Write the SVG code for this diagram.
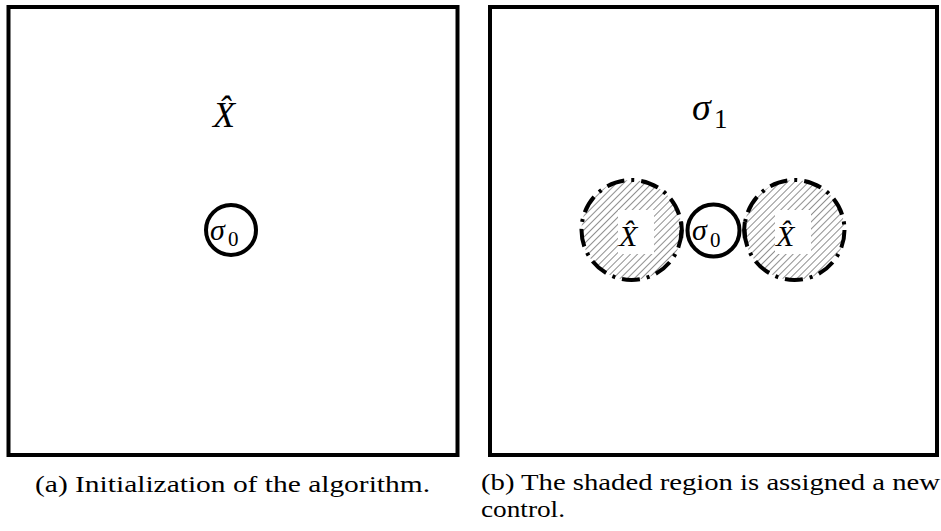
<svg xmlns="http://www.w3.org/2000/svg" width="941" height="531" viewBox="0 0 941 531" font-family="Liberation Serif, serif">
<style>
.frame{fill:none;stroke:#000;stroke-width:4}
.ring{fill:#fff;stroke:#000;stroke-width:4}
.dd{fill:url(#hatch);stroke:#000;stroke-width:4;stroke-dasharray:18 7 3 7}
.m{font-style:italic;fill:#000}
.sub{fill:#000}
.cap{font-size:24px;fill:#000}
</style>
<defs>
<pattern id="hatch" patternUnits="userSpaceOnUse" width="5" height="5" patternTransform="rotate(45)">
<rect width="5" height="5" fill="#fff"/>
<line x1="0" y1="0" x2="0" y2="5" stroke="#333" stroke-width="1.1"/>
</pattern>
</defs>
<g id="panel-a">
<rect class="frame" x="8.5" y="7" width="449" height="448"/>
<text class="m" x="213" y="127" font-size="36" font-family="Liberation Serif, serif">X̂</text>
</g>
<g id="sigma0-a">
<circle class="ring" cx="231" cy="230" r="25"/>
<text class="m" x="210" y="240" font-size="30" font-family="Liberation Serif, serif">σ</text>
<text class="sub" x="228" y="246" font-size="21" font-family="Liberation Serif, serif">0</text>
</g>
<g id="panel-b">
<rect class="frame" x="490" y="7" width="447" height="448"/>
<text class="m" x="692" y="120" font-size="38" font-family="Liberation Serif, serif">σ</text>
<text class="sub" x="714" y="128" font-size="27" font-family="Liberation Serif, serif">1</text>
</g>
<g id="region-left">
<circle class="dd" cx="631.5" cy="230" r="50"/>
<path d="M681.2 222 A50 50 0 0 1 681.2 238" fill="none" stroke="#000" stroke-width="4"/>
<rect x="618" y="210" width="36" height="44" fill="#fff"/>
<text class="m" x="619" y="246" font-size="30" font-family="Liberation Serif, serif">X̂</text>
</g>
<g id="region-right">
<circle class="dd" cx="794.5" cy="230" r="50"/>
<path d="M744.8 222 A50 50 0 0 0 744.8 238" fill="none" stroke="#000" stroke-width="4"/>
<rect x="775" y="210" width="36" height="44" fill="#fff"/>
<text class="m" x="776" y="246" font-size="30" font-family="Liberation Serif, serif">X̂</text>
</g>
<g id="sigma0-b">
<circle class="ring" cx="713.5" cy="230.5" r="26"/>
<text class="m" x="692" y="240" font-size="30" font-family="Liberation Serif, serif">σ</text>
<text class="sub" x="710" y="247" font-size="21" font-family="Liberation Serif, serif">0</text>
</g>
<g id="connectors"></g>
<g id="captions" font-family="Liberation Serif, serif">
<text class="cap" x="35" y="492" textLength="395" lengthAdjust="spacingAndGlyphs">(a) Initialization of the algorithm.</text>
<text class="cap" x="481" y="490" textLength="459" lengthAdjust="spacingAndGlyphs">(b) The shaded region is assigned a new</text>
<text class="cap" x="481" y="517" textLength="84" lengthAdjust="spacingAndGlyphs">control.</text>
</g>
</svg>
